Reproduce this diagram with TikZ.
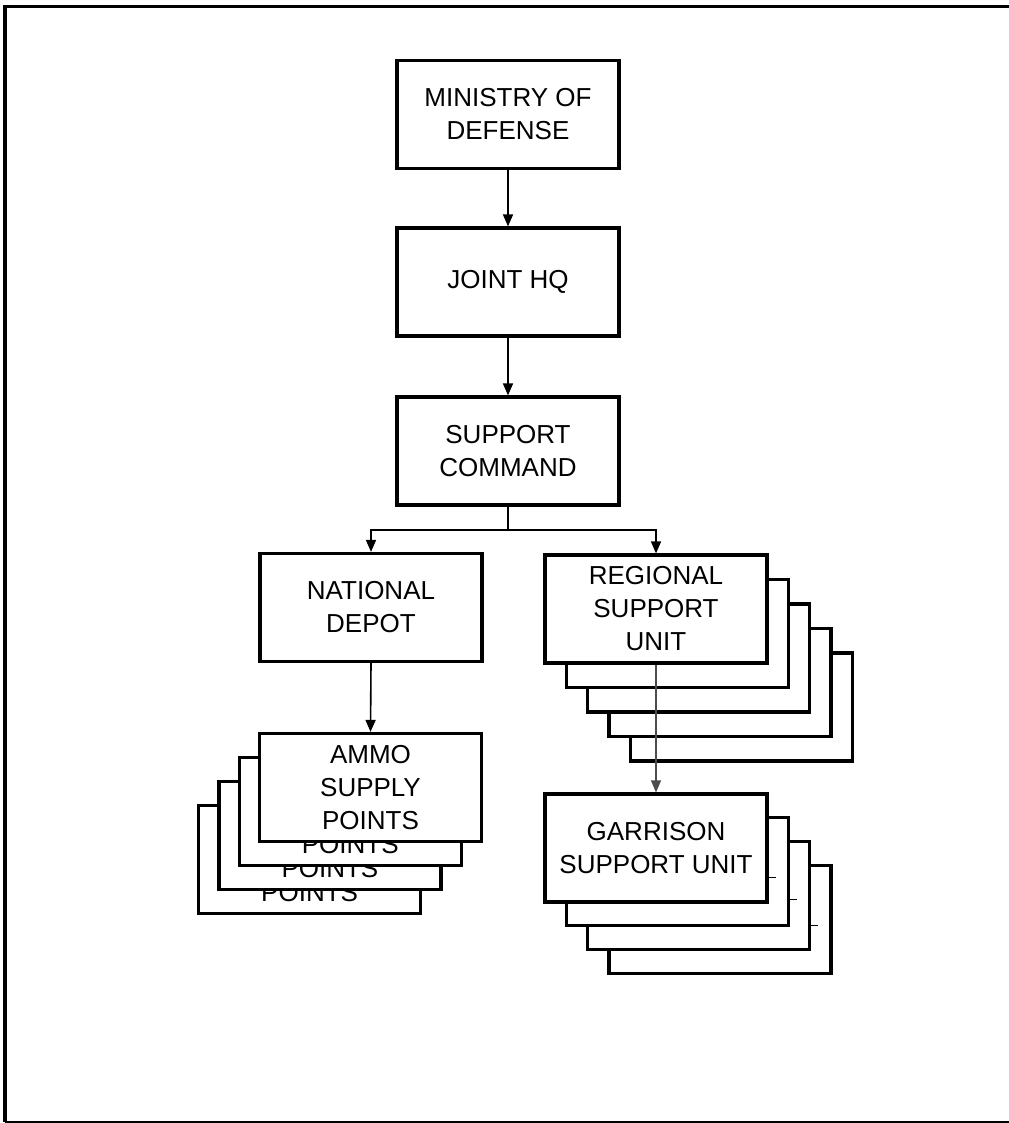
\documentclass[tikz,border=0pt]{standalone}
\usepackage{fontspec}
\setmainfont{Liberation Sans}
\usetikzlibrary{arrows.meta}
\begin{document}
\begin{tikzpicture}[x=0.5pt,y=-0.5pt,
  box/.style={draw=black, fill=white, line width=1.6pt, rectangle, align=center,
    minimum width=111pt, minimum height=54pt, inner sep=0pt,
    font=\fontsize{13}{16.5}\selectfont},
  lbl/.style={inner sep=0pt, font=\fontsize{13}{16.5}\selectfont},
  arr/.style={line width=0.8pt, -{Triangle[length=6pt,width=5pt]}},
  thinarr/.style={line width=0.6pt, draw=black!70, -{Triangle[length=6pt,width=5pt]}},
  frame/.style={line width=1.6pt},
  tick/.style={line width=0.6pt}]
\useasboundingbox (0,0) rectangle (1008,1123);
% frame
\draw[frame] (5,1121.5) -- (5,6.5) -- (1012,6.5);
\draw[line width=1pt] (5,1121.5) -- (1012,1121.5);

% top chain
\node[box] (mod) at (508,114.5) {MINISTRY OF\\DEFENSE};
\node[box] (jhq) at (508,282) {JOINT HQ};
\node[box] (sc) at (508,451) {SUPPORT\\COMMAND};
\node[box] (nd) at (371,607.5) {NATIONAL\\DEPOT};

% regional support unit stack (back to front)
\foreach \k in {4,3,2,1}{
  \node[box] (rsu\k) at ({656+21.3*\k},{609+24.5*\k}) {};
}
\node[box] (rsu) at (656,609) {REGIONAL\\SUPPORT\\UNIT};

% garrison support unit stack
\foreach \k in {3,2,1}{
  \node[box] (gsu\k) at ({656+21.3*\k},{848+23.8*\k}) {};
}
\node[box] (gsu) at (656,848) {GARRISON\\SUPPORT UNIT};
\draw[tick] (768,877.5) -- (776,877.5);
\draw[tick] (789,899.5) -- (797,899.5);
\draw[tick] (810,925.5) -- (818,925.5);

% ammo supply points stack
\foreach \k in {3,2,1}{
  \node[box] (asp\k) at ({370.5-20.3*\k},{787.5+24*\k}) {};
  \node[lbl] (aspt\k) at ([yshift=-16.5pt]asp\k.center) {POINTS};
}
\node[box] (asp) at (370.5,787.5) {AMMO\\SUPPLY\\POINTS};

% connectors
\draw[arr] (mod.south) -- (jhq.north);
\draw[arr] (jhq.south) -- (sc.north);
\coordinate (br) at (508,530);
\draw[line width=0.8pt] (sc.south) -- (br);
\draw[arr] (br) -| (nd.north);
\draw[arr] (br) -| (rsu.north);
\draw[arr] (nd.south) -- (asp.north);
\draw[thinarr] (rsu.south) -- (gsu.north);
\end{tikzpicture}
\end{document}
